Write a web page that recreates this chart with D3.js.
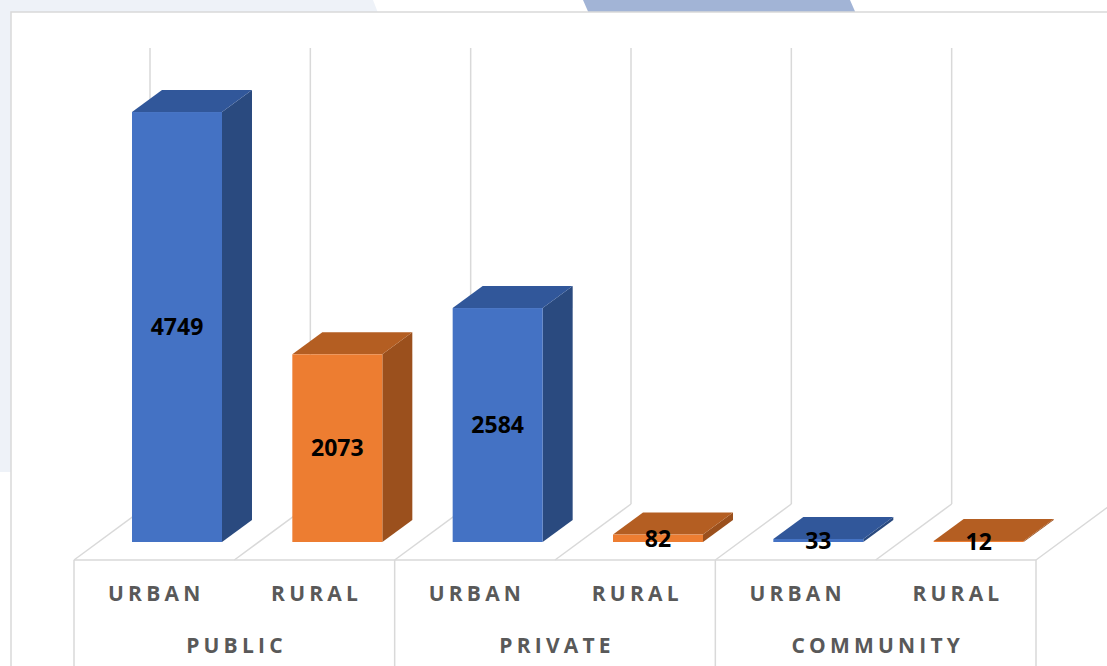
<!DOCTYPE html>
<html lang="en">
<head>
<meta charset="UTF-8">
<title>Schools by type and area</title>
<style>
    body { margin: 0; background: #ffffff; }
    svg { display: block; }
    .val { font-family: "Open Sans", sans-serif; font-weight: 700; font-size: 23px; fill: #000; }
    .cat { font-family: "Open Sans", sans-serif; font-weight: 700; font-size: 21px; fill: #595959; letter-spacing: 4.2px; }
</style>
</head>
<body>
<script src="https://cdn.jsdelivr.net/npm/d3@7"></script>
<script>

// data
var groups = ["PUBLIC", "PRIVATE", "COMMUNITY"];
var areas = ["URBAN", "RURAL"];
var values = [4749, 2073, 2584, 82, 33, 12];

var width = 1107, height = 666;

var svg = d3.select("body").append("svg")
    .attr("width", width)
    .attr("height", height);

// background shapes behind the chart area
svg.append("path")
    .attr("d", "M0,0 L373,0 L380,18 L380,440 Q380,472 348,472 L0,472 Z")
    .attr("fill", "#eef2f8");
svg.append("path")
    .attr("d", "M583,0 L850,0 L857,16 L590,16 Z")
    .attr("fill", "#a2b4d6");

// chart area
svg.append("rect")
    .attr("x", 11).attr("y", 12)
    .attr("width", 1200).attr("height", 800)
    .attr("fill", "#fff")
    .attr("stroke", "#d9d9d9")
    .attr("stroke-width", 1.5);

// scales
var cats = d3.range(values.length);
var x = d3.scaleBand().domain(cats).range([74, 1036]);
var xg = d3.scaleBand().domain(groups).range([74, 1036]);
var baseY = 542;
var y = d3.scaleLinear().domain([0, 5000]).range([baseY, baseY - 452.7]);

// floor / wall geometry
var floorY = 560, depthX = 76, depthY = 56, wallTop = 48;
var bw = x.bandwidth();
var bounds = d3.range(values.length + 1).map(function(i) { return 74 + i * bw; });

var grid = svg.append("g").attr("stroke", "#d9d9d9").attr("stroke-width", 1.5).attr("fill", "none");

grid.selectAll(".gl")
    .data(bounds)
  .enter().append("line")
    .attr("x1", function(d) { return d + depthX; })
    .attr("x2", function(d) { return d + depthX; })
    .attr("y1", wallTop)
    .attr("y2", floorY - depthY);

grid.selectAll(".fl")
    .data(bounds)
  .enter().append("line")
    .attr("x1", function(d) { return d; })
    .attr("y1", floorY)
    .attr("x2", function(d) { return d + depthX; })
    .attr("y2", floorY - depthY);

// axis box
grid.append("line")
    .attr("x1", 74).attr("x2", 1036)
    .attr("y1", floorY).attr("y2", floorY);

grid.selectAll(".gb")
    .data([74].concat(groups.map(function(g) { return xg(g) + xg.bandwidth(); })))
  .enter().append("line")
    .attr("x1", function(d) { return d; })
    .attr("x2", function(d) { return d; })
    .attr("y1", floorY)
    .attr("y2", height + 5);

// bars
var colors = {
    URBAN: { front: "#4472c4", top: "#31579a", side: "#2a4a7f" },
    RURAL: { front: "#ed7d31", top: "#b45e22", side: "#9b501d" }
};
var offX = 58, faceW = bw * 0.5613, bx = 30, by = 22;

var bars = svg.append("g").selectAll("g")
    .data(values.map(function(v, i) { return { v: v, i: i, area: areas[i % 2] }; }))
  .enter().append("g");

bars.append("path")
    .attr("fill", function(d) { return colors[d.area].side; })
    .attr("d", function(d) {
        var x1 = x(d.i) + offX + faceW, yt = y(d.v);
        return "M" + x1 + "," + baseY + "L" + x1 + "," + yt +
            "L" + (x1 + bx) + "," + (yt - by) + "L" + (x1 + bx) + "," + (baseY - by) + "Z";
    });

bars.append("path")
    .attr("fill", function(d) { return colors[d.area].top; })
    .attr("d", function(d) {
        var x0 = x(d.i) + offX, yt = y(d.v);
        return "M" + x0 + "," + yt + "L" + (x0 + faceW) + "," + yt +
            "L" + (x0 + faceW + bx) + "," + (yt - by) + "L" + (x0 + bx) + "," + (yt - by) + "Z";
    });

bars.append("rect")
    .attr("fill", function(d) { return colors[d.area].front; })
    .attr("x", function(d) { return x(d.i) + offX; })
    .attr("y", function(d) { return y(d.v); })
    .attr("width", faceW)
    .attr("height", function(d) { return baseY - y(d.v); });

// value labels
svg.append("g").selectAll("text")
    .data(values)
  .enter().append("text")
    .attr("class", "val")
    .attr("text-anchor", "middle")
    .attr("x", function(d, i) { return x(i) + offX + faceW / 2; })
    .attr("y", function(d) { return Math.min((y(d) + baseY) / 2, 541.5); })
    .attr("dy", "0.36em")
    .text(function(d) { return d; });

// category labels
svg.append("g").selectAll("text")
    .data(cats)
  .enter().append("text")
    .attr("class", "cat")
    .attr("text-anchor", "middle")
    .attr("x", function(i) { return x(i) + bw / 2 + 2.1; })
    .attr("y", 593)
    .attr("dy", "0.36em")
    .text(function(i) { return areas[i % 2]; });

svg.append("g").selectAll("text")
    .data(groups)
  .enter().append("text")
    .attr("class", "cat")
    .attr("text-anchor", "middle")
    .attr("x", function(g) { return xg(g) + xg.bandwidth() / 2 + 2.1; })
    .attr("y", 645)
    .attr("dy", "0.36em")
    .text(function(g) { return g; });

</script>
</body>
</html>
